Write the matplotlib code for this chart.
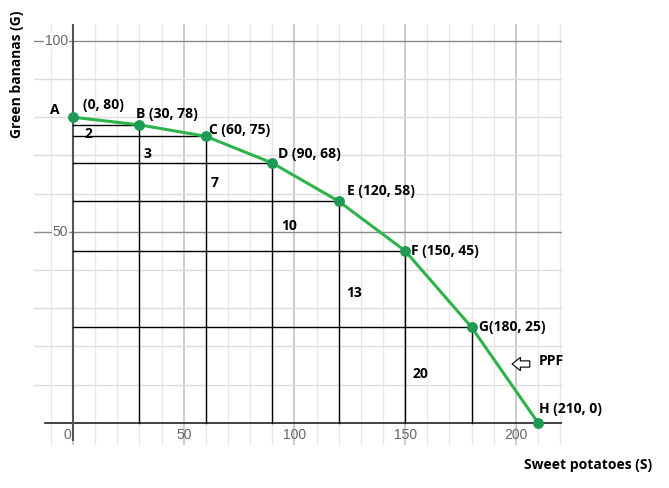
import matplotlib.pyplot as plt

# PPF points
labels = ['A', 'B', 'C', 'D', 'E', 'F', 'G', 'H']
sweet = [0, 30, 60, 90, 120, 150, 180, 210]
green = [80, 78, 75, 68, 58, 45, 25, 0]

# opportunity cost steps (text, x, y)
steps = ['2', '3', '7', '10', '13', '20']
step_x = [5, 32, 62, 94, 123.5, 153.5]
step_y = [75.7, 70.3, 62.8, 51.6, 34.0, 12.8]

# label positions (left edge x, centre y) for each point
lab_x = [-10.5, 28.5, 61.5, 92.5, 123.5, 152.5, 183.5, 210.5]
lab_y = [81.8, 80.8, 76.6, 70.3, 60.6, 45.0, 25.0, 3.6]
lab_txt = ['A', 'B (30, 78)', 'C (60, 75)', 'D (90, 68)', 'E (120, 58)',
           'F (150, 45)', 'G(180, 25)', 'H (210, 0)']

xticks = [0, 50, 100, 150, 200]
yticks = [50, 100]

bold = dict(family=['Open Sans', 'DejaVu Sans'], fontweight='bold', fontsize=10, color='black')
tickf = dict(family=['Liberation Sans', 'DejaVu Sans'], fontsize=10, color='#666666')

fig = plt.figure(figsize=(6.69, 4.88), dpi=100)
ax = fig.add_axes([34 / 669, 1 - 445 / 488, (562 - 34) / 669, (445 - 24) / 488])
ax.set_xlim(-17.6, 220.8)
ax.set_ylim(-5.8, 104.4)
for s in ax.spines.values():
    s.set_visible(False)
ax.set_xticks([])
ax.set_yticks([])

# grid
for gx in range(-10, 221, 10):
    c = '#c4c4c4' if gx % 50 == 0 else '#e8e8e8'
    ax.axvline(gx, color=c, lw=1.2 if gx % 50 == 0 else 1, zorder=0)
for gy in range(10, 101, 10):
    c = '#8a8a8a' if gy % 50 == 0 else '#dcdcdc'
    ax.axhline(gy, color=c, lw=1, zorder=0)

# axes lines
ax.plot([-12.6, 220.8], [0, 0], color='#222222', lw=1.2, zorder=1)
ax.axvline(0, color='#555555', lw=1.5, ymin=(-4.5 + 5.8) / 110.2, zorder=1)

# tick labels
for t in xticks:
    ax.text(t - 2.5 if t == 0 else t, -3.2, str(t), ha='center', va='center', **tickf)
for t in yticks:
    ax.text(-2.2, t, str(t), ha='right', va='center',
            bbox=dict(fc='white', ec='none', pad=0.5), **tickf)

# black guide lines
for sx, gy in zip(sweet[1:-1], green[1:-1]):
    ax.plot([0, sx], [gy, gy], color='black', lw=1, zorder=2)
    ax.plot([sx, sx], [0, gy], color='black', lw=1, zorder=2)

# PPF
ax.plot(sweet, green, color='#2db34a', lw=2.2, solid_joinstyle='round', zorder=3)
ax.plot(sweet, green, 'o', color='#1f9a55', ms=6.8, zorder=4)

for t, x, y in zip(lab_txt, lab_x, lab_y):
    ax.text(x, y, t, ha='left', va='center', **bold)
ax.text(4.5, 83.3, '(0, 80)', ha='left', va='center', **bold)

for t, x, y in zip(steps, step_x, step_y):
    ax.text(x, y, t, ha='left', va='center', **bold)

# PPF arrow
ax.annotate('', xy=(197.0, 15.4), xytext=(207.5, 15.4),
            arrowprops=dict(arrowstyle='simple,head_length=0.6,head_width=0.95,tail_width=0.45',
                            fc='white', ec='black', lw=0.8))
ax.text(210.3, 16.2, 'PPF', ha='left', va='center', clip_on=False, **bold)

fig.text(17 / 669, 1 - 74 / 488, 'Green bananas (G)', rotation=90, ha='center', va='center', **bold)
fig.text(588 / 669, 1 - 465 / 488, 'Sweet potatoes (S)', ha='center', va='center', **bold)

fig.savefig('out.png', dpi=100)
